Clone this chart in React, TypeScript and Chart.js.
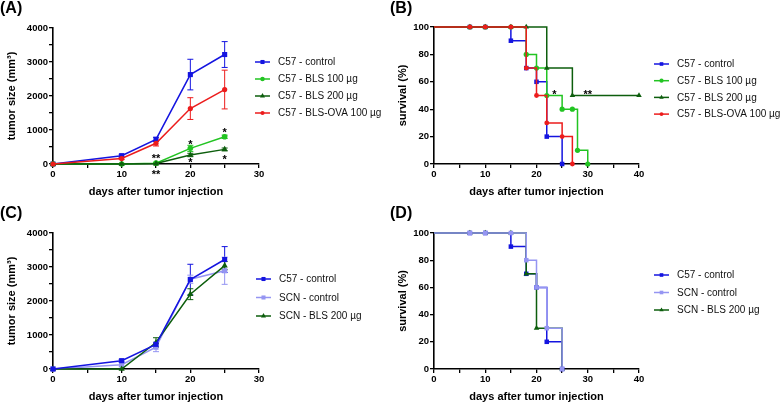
import React, { useEffect, useRef } from 'react';
import { Chart, registerables } from 'chart.js';

Chart.register(...registerables);

const FONT = "'Liberation Sans', Arial, Helvetica, sans-serif";

// ---------- colours ----------
const BLUE = '#1414e0';
const LGREEN = '#22c422';
const DGREEN = '#0d5e0d';
const RED = '#ec1c1c';
const LBLUE = '#9595f2';

// ---------- Panel A / C : tumour growth ----------
const growthDays = [0, 10, 15, 20, 25];

const c57Control = [0, 245, 725, 2630, 3220];
const c57ControlErr = [0, 40, 60, 450, 380];
const c57Bls100 = [0, 0, 25, 460, 800];
const c57Bls100Err = [0, 0, 20, 90, 50];
const c57Bls200 = [0, 0, 12, 265, 430];
const c57Bls200Err = [0, 0, 10, 50, 40];
const c57Ova = [0, 160, 610, 1630, 2190];
const c57OvaErr = [0, 30, 80, 320, 570];

const scnControl = [0, 125, 640, 2640, 2890];
const scnControlErr = [0, 60, 130, 120, 400];
const scnBls200 = [0, 0, 780, 2200, 3040];
const scnBls200Err = [0, 0, 140, 160, 120];

const aStarX = [15, 15, 20, 20, 25, 25];
const aStarY = [245, -240, 650, 115, 1000, 200];
const aStarText = ['**', '**', '*', '*', '*', '*'];

// ---------- Panel B / D : survival ----------
const bControlDays = [0, 7, 10, 15, 18, 20, 22, 25];
const bControlSurv = [100, 100, 100, 90, 70, 60, 20, 0];
const bBls100Days = [0, 7, 10, 15, 18, 20, 22, 25, 27, 28, 30];
const bBls100Surv = [100, 100, 100, 100, 80, 70, 50, 40, 40, 10, 0];
const bBls200Days = [0, 7, 10, 15, 18, 22, 27, 40];
const bBls200Surv = [100, 100, 100, 100, 100, 70, 50, 50];
const bOvaDays = [0, 7, 10, 15, 18, 20, 22, 25, 27];
const bOvaSurv = [100, 100, 100, 100, 70, 50, 30, 20, 0];

const bStarX = [23.5, 30];
const bStarY = [53, 53];
const bStarText = ['*', '**'];

const dScnDays = [0, 7, 10, 15, 18, 20, 22, 25];
const dScnSurv = [100, 100, 100, 100, 80, 60, 30, 0];
const dBlsDays = [0, 7, 10, 15, 18, 20, 25];
const dBlsSurv = [100, 100, 100, 100, 70, 30, 0];

// ---------- labels ----------
const LBL_C57_CONTROL = 'C57 - control';
const LBL_C57_BLS100 = 'C57 - BLS 100 µg';
const LBL_C57_BLS200 = 'C57 - BLS 200 µg';
const LBL_C57_OVA = 'C57 - BLS-OVA 100 µg';
const LBL_SCN_CONTROL = 'SCN - control';
const LBL_SCN_BLS200 = 'SCN - BLS 200 µg';

type Series = {
  label: string;
  color: string;
  shape: string;
  radius: number;
  xs: number[];
  ys: number[];
  errs?: number[];
  order: number;
};

type PanelSpec = {
  id: string;
  tag: string;
  left: number;
  top: number;
  w: number;
  h: number;
  plotLeft: number;
  plotRight: number;
  plotTop: number;
  plotBottom: number;
  xMax: number;
  yMax: number;
  yStep: number;
  yMajor: number;
  yTitle: string;
  stepped: boolean;
  series: Series[];
  legendX: number;
  legendY: number;
  legendRow: number;
  starX: number[];
  starY: number[];
  starText: string[];
  xTitlePad: number;
  yTitlePad: number;
};

function drawMarker(ctx: CanvasRenderingContext2D, shape: string, x: number, y: number, r: number, color: string) {
  ctx.save();
  ctx.fillStyle = color;
  ctx.beginPath();
  if (shape === 'rect') {
    const s = r * Math.SQRT1_2;
    ctx.rect(x - s, y - s, 2 * s, 2 * s);
  } else if (shape === 'triangle') {
    const h = r * 1.5;
    ctx.moveTo(x, y - r);
    ctx.lineTo(x + (h / Math.sqrt(3)) * 1.0, y + r / 2);
    ctx.lineTo(x - (h / Math.sqrt(3)) * 1.0, y + r / 2);
    ctx.closePath();
  } else {
    ctx.arc(x, y, r, 0, Math.PI * 2);
  }
  ctx.fill();
  ctx.restore();
}

const decorPlugin = {
  id: 'decor',
  beforeDatasetsDraw(chart: any) {
    const spec: PanelSpec = chart.options.plugins.decor.spec;
    const ctx = chart.ctx as CanvasRenderingContext2D;
    const xs = chart.scales.x;
    const ys = chart.scales.y;
    spec.series.forEach((s) => {
      if (!s.errs) return;
      ctx.save();
      ctx.strokeStyle = s.color;
      ctx.lineWidth = 1;
      s.errs.forEach((e, i) => {
        if (!e) return;
        const px = xs.getPixelForValue(s.xs[i]);
        const y1 = ys.getPixelForValue(s.ys[i] + e);
        const y2 = ys.getPixelForValue(s.ys[i] - e);
        ctx.beginPath();
        ctx.moveTo(px, y1);
        ctx.lineTo(px, y2);
        ctx.moveTo(px - 3, y1);
        ctx.lineTo(px + 3, y1);
        ctx.moveTo(px - 3, y2);
        ctx.lineTo(px + 3, y2);
        ctx.stroke();
      });
      ctx.restore();
    });
  },
  afterDraw(chart: any) {
    const spec: PanelSpec = chart.options.plugins.decor.spec;
    const ctx = chart.ctx as CanvasRenderingContext2D;
    const xs = chart.scales.x;
    const ys = chart.scales.y;
    ctx.save();
    // panel tag
    ctx.fillStyle = '#000';
    ctx.font = `bold 16px ${FONT}`;
    ctx.textBaseline = 'top';
    ctx.textAlign = 'left';
    ctx.fillText(spec.tag, 0, 1);
    // stars
    ctx.font = `bold 11px ${FONT}`;
    ctx.textAlign = 'center';
    ctx.textBaseline = 'alphabetic';
    spec.starText.forEach((t, i) => {
      const px = xs.getPixelForValue(spec.starX[i]);
      const py = ys.getPixelForValue(spec.starY[i]);
      ctx.fillText(t, px, py + 11 * 0.57);
    });
    // legend
    ctx.font = `10px ${FONT}`;
    ctx.textAlign = 'left';
    ctx.textBaseline = 'middle';
    spec.series.forEach((s, i) => {
      const y = spec.legendY + i * spec.legendRow;
      ctx.strokeStyle = s.color;
      ctx.lineWidth = 1.5;
      ctx.beginPath();
      ctx.moveTo(spec.legendX, y);
      ctx.lineTo(spec.legendX + 15, y);
      ctx.stroke();
      drawMarker(ctx, s.shape, spec.legendX + 7.5, y, s.radius * 0.8, s.color);
      ctx.fillStyle = '#111';
      ctx.fillText(s.label, spec.legendX + 23, y + 0.5);
    });
    ctx.restore();
  },
};

function buildConfig(spec: PanelSpec): any {
  const tickFont = { family: FONT, size: 9.5, weight: 'bold' as const };
  const titleFont = { family: FONT, size: 11, weight: 'bold' as const };
  const datasets = spec.series.map((s) => ({
    label: s.label,
    data: s.xs.map((x, i) => ({ x, y: s.ys[i] })),
    borderColor: s.color,
    backgroundColor: s.color,
    borderWidth: 1.5,
    pointStyle: s.shape,
    pointRadius: (c: any) => (spec.stepped && c.raw && c.raw.x === 0 ? 0 : s.radius),
    pointBorderWidth: 0,
    pointHoverRadius: s.radius,
    stepped: spec.stepped ? 'before' : false,
    tension: 0,
    clip: false,
    order: s.order,
    fill: false,
  }));
  return {
    type: 'line',
    data: { datasets },
    plugins: [decorPlugin],
    options: {
      animation: false,
      responsive: false,
      maintainAspectRatio: false,
      events: [],
      layout: {
        padding: {
          left: 0,
          top: spec.plotTop,
          right: spec.w - spec.plotRight,
          bottom: 0,
        },
      },
      plugins: {
        legend: { display: false },
        tooltip: { enabled: false },
        decor: { spec },
      },
      scales: {
        x: {
          type: 'linear',
          min: 0,
          max: spec.xMax,
          afterFit: (sc: any) => {
            sc.height = spec.h - spec.plotBottom;
          },
          ticks: {
            stepSize: 5,
            autoSkip: false,
            maxRotation: 0,
            color: '#000',
            font: tickFont,
            padding: 1,
            callback: (v: any) => (Number(v) % 10 === 0 ? String(v) : ''),
          },
          grid: {
            drawOnChartArea: false,
            drawTicks: true,
            tickLength: 4,
            color: '#000',
            lineWidth: 1.3,
          },
          border: { display: true, color: '#000', width: 1.6 },
          title: {
            display: true,
            text: 'days after tumor injection',
            color: '#000',
            font: titleFont,
            padding: { top: 0, bottom: spec.xTitlePad },
          },
        },
        y: {
          type: 'linear',
          min: 0,
          max: spec.yMax,
          afterFit: (sc: any) => {
            sc.width = spec.plotLeft;
          },
          ticks: {
            stepSize: spec.yStep,
            autoSkip: false,
            color: '#000',
            font: tickFont,
            padding: 1,
            callback: (v: any) => (Number(v) % spec.yMajor === 0 ? String(v) : ''),
          },
          grid: {
            drawOnChartArea: false,
            drawTicks: true,
            tickLength: 4,
            color: '#000',
            lineWidth: 1.3,
          },
          border: { display: true, color: '#000', width: 1.6 },
          title: {
            display: true,
            text: spec.yTitle,
            color: '#000',
            font: titleFont,
            padding: { top: spec.yTitlePad, bottom: 0 },
          },
        },
      },
    },
  };
}

const panels: PanelSpec[] = [
  {
    id: 'A', tag: '(A)', left: 0, top: 0, w: 390, h: 205,
    plotLeft: 53, plotRight: 259, plotTop: 28, plotBottom: 164,
    xMax: 30, yMax: 4000, yStep: 500, yMajor: 1000,
    yTitle: 'tumor size (mm³)', stepped: false,
    series: [
      { label: LBL_C57_CONTROL, color: BLUE, shape: 'rect', radius: 3.6, xs: growthDays, ys: c57Control, errs: c57ControlErr, order: 3 },
      { label: LBL_C57_BLS100, color: LGREEN, shape: 'circle', radius: 2.8, xs: growthDays, ys: c57Bls100, errs: c57Bls100Err, order: 2 },
      { label: LBL_C57_BLS200, color: DGREEN, shape: 'triangle', radius: 3.6, xs: growthDays, ys: c57Bls200, errs: c57Bls200Err, order: 1 },
      { label: LBL_C57_OVA, color: RED, shape: 'circle', radius: 2.6, xs: growthDays, ys: c57Ova, errs: c57OvaErr, order: 0 },
    ],
    legendX: 255, legendY: 62, legendRow: 17,
    starX: aStarX, starY: aStarY, starText: aStarText,
    xTitlePad: 6, yTitlePad: 5,
  },
  {
    id: 'B', tag: '(B)', left: 390, top: 0, w: 390, h: 205,
    plotLeft: 44, plotRight: 249, plotTop: 27, plotBottom: 164,
    xMax: 40, yMax: 100, yStep: 20, yMajor: 20,
    yTitle: 'survival (%)', stepped: true,
    series: [
      { label: LBL_C57_CONTROL, color: BLUE, shape: 'rect', radius: 3.2, xs: bControlDays, ys: bControlSurv, order: 3 },
      { label: LBL_C57_BLS100, color: LGREEN, shape: 'circle', radius: 2.6, xs: bBls100Days, ys: bBls100Surv, order: 2 },
      { label: LBL_C57_BLS200, color: DGREEN, shape: 'triangle', radius: 3.2, xs: bBls200Days, ys: bBls200Surv, order: 1 },
      { label: LBL_C57_OVA, color: RED, shape: 'circle', radius: 2.4, xs: bOvaDays, ys: bOvaSurv, order: 0 },
    ],
    legendX: 264, legendY: 64, legendRow: 16.7,
    starX: bStarX, starY: bStarY, starText: bStarText,
    xTitlePad: 6, yTitlePad: 6,
  },
  {
    id: 'C', tag: '(C)', left: 0, top: 205, w: 390, h: 199,
    plotLeft: 53, plotRight: 259, plotTop: 28, plotBottom: 164,
    xMax: 30, yMax: 4000, yStep: 500, yMajor: 1000,
    yTitle: 'tumor size (mm³)', stepped: false,
    series: [
      { label: LBL_C57_CONTROL, color: BLUE, shape: 'rect', radius: 3.6, xs: growthDays, ys: c57Control, errs: c57ControlErr, order: 0 },
      { label: LBL_SCN_CONTROL, color: LBLUE, shape: 'rect', radius: 3.6, xs: growthDays, ys: scnControl, errs: scnControlErr, order: 2 },
      { label: LBL_SCN_BLS200, color: DGREEN, shape: 'triangle', radius: 3.6, xs: growthDays, ys: scnBls200, errs: scnBls200Err, order: 1 },
    ],
    legendX: 256, legendY: 74, legendRow: 18.5,
    starX: [], starY: [], starText: [],
    xTitlePad: 0.5, yTitlePad: 5,
  },
  {
    id: 'D', tag: '(D)', left: 390, top: 205, w: 390, h: 199,
    plotLeft: 44, plotRight: 249, plotTop: 28, plotBottom: 164,
    xMax: 40, yMax: 100, yStep: 20, yMajor: 20,
    yTitle: 'survival (%)', stepped: true,
    series: [
      { label: LBL_C57_CONTROL, color: BLUE, shape: 'rect', radius: 3.2, xs: bControlDays, ys: bControlSurv, order: 2 },
      { label: LBL_SCN_CONTROL, color: LBLUE, shape: 'rect', radius: 3.2, xs: dScnDays, ys: dScnSurv, order: 0 },
      { label: LBL_SCN_BLS200, color: DGREEN, shape: 'triangle', radius: 3.2, xs: dBlsDays, ys: dBlsSurv, order: 1 },
    ],
    legendX: 264, legendY: 70, legendRow: 17.5,
    starX: [], starY: [], starText: [],
    xTitlePad: 0.5, yTitlePad: 6,
  },
];

function Panel({ spec }: { spec: PanelSpec }) {
  const ref = useRef<HTMLCanvasElement>(null);
  useEffect(() => {
    if (!ref.current) return;
    const chart = new Chart(ref.current, buildConfig(spec));
    return () => chart.destroy();
  }, [spec]);
  return (
    <div style={{ position: 'absolute', left: spec.left, top: spec.top, width: spec.w, height: spec.h }}>
      <canvas ref={ref} width={spec.w} height={spec.h} style={{ display: 'block', width: spec.w, height: spec.h }} />
    </div>
  );
}

export default function App() {
  return (
    <div style={{ position: 'absolute', left: 0, top: 0, width: 780, height: 404, background: '#fff', overflow: 'hidden' }}>
      {panels.map((p) => (
        <Panel key={p.id} spec={p} />
      ))}
    </div>
  );
}
